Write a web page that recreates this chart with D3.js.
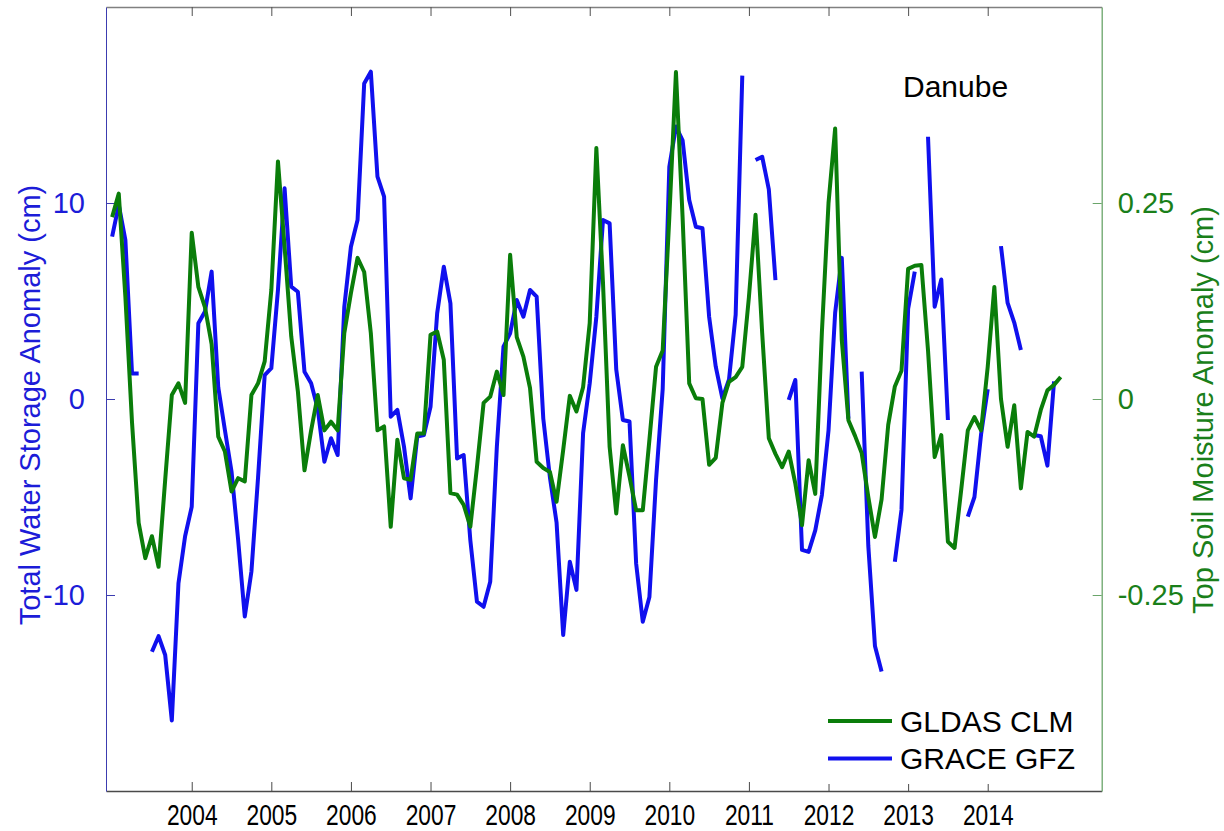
<!DOCTYPE html>
<html>
<head>
<meta charset="utf-8">
<script src="https://cdn.jsdelivr.net/npm/d3@7"></script>
<style>
  html, body { margin: 0; padding: 0; background: #fff; }
  svg { display: block; font-family: "Liberation Sans", Arial, Helvetica, sans-serif; }
</style>
</head>
<body>
<svg id="chart" width="1224" height="831"></svg>
<script>
// Monthly series, January 2003 to December 2014
const startYear = 2003;

// GLDAS CLM top soil moisture anomaly (cm), right axis
const gldasClm = [
  0.232, 0.262, 0.130, -0.030, -0.158, -0.203, -0.175, -0.214, -0.103, 0.005, 0.020, -0.005,
  0.212, 0.143, 0.117, 0.070, -0.048, -0.067, -0.118, -0.101, -0.105, 0.005, 0.020, 0.048,
  0.139, 0.303, 0.194, 0.080, 0.010, -0.091, -0.040, 0.005, -0.040, -0.029, -0.040, 0.084,
  0.135, 0.180, 0.162, 0.084, -0.040, -0.035, -0.163, -0.052, -0.101, -0.103, -0.044, -0.044,
  0.082, 0.086, 0.050, -0.120, -0.122, -0.135, -0.163, -0.087, -0.005, 0.003, 0.035, 0.005,
  0.184, 0.079, 0.054, 0.014, -0.080, -0.088, -0.093, -0.131, -0.065, 0.004, -0.016, 0.015,
  0.097, 0.320, 0.148, -0.061, -0.146, -0.059, -0.099, -0.142, -0.142, -0.052, 0.041, 0.062,
  0.232, 0.417, 0.232, 0.020, 0.001, 0.000, -0.084, -0.075, -0.005, 0.022, 0.028, 0.041,
  0.130, 0.235, 0.084, -0.050, -0.070, -0.087, -0.067, -0.108, -0.161, -0.078, -0.121, 0.085,
  0.250, 0.345, 0.075, -0.027, -0.047, -0.069, -0.125, -0.176, -0.128, -0.033, 0.016, 0.036,
  0.166, 0.170, 0.171, 0.062, -0.074, -0.046, -0.182, -0.190, -0.116, -0.040, -0.023, -0.040,
  0.041, 0.143, 0.000, -0.061, -0.008, -0.114, -0.042, -0.048, -0.014, 0.011, 0.018, 0.028
];

// GRACE GFZ total water storage anomaly (cm), left axis; null = missing month
const graceGfz = [
  8.28, 9.90, 8.10, 1.30, 1.30, null, -12.9, -12.1, -13.06, -16.4, -9.4, -7.0,
  -5.5, 3.87, 4.46, 6.5, 0.6, -1.58, -3.7, -7.2, -11.1, -8.8, -4.0, 1.22,
  1.57, 5.56, 10.75, 5.73, 5.47, 1.39, 0.8, -0.5, -3.2, -2.0, -2.86, 4.7,
  7.77, 9.13, 16.1, 16.7, 11.34, 10.32, -0.9, -0.56, -2.43, -5.07, -1.92, -1.84,
  -0.4, 4.37, 6.75, 4.88, -3.03, -2.86, -7.2, -10.34, -10.6, -9.32, -2.43, 2.67,
  3.35, 5.05, 4.2, 5.56, 5.22, -1.0, -4.0, -6.3, -12.04, -8.3, -9.74, -1.75,
  0.8, 4.2, 9.13, 8.96, 1.5, -1.07, -1.15, -8.4, -11.36, -10.1, -4.13, 0.5,
  11.85, 13.9, 13.2, 10.15, 8.79, 8.71, 4.2, 1.65, 0.03, 1.0, 4.3, 16.5,
  null, 12.19, 12.36, 10.7, 6.07, null, -0.05, 0.97, -7.7, -7.8, -6.7, -4.9,
  -1.6, 4.4, 7.2, -1.0, null, 1.4, -7.5, -12.6, -13.9, null, -8.3, -5.66,
  4.6, 6.5, null, 13.38, 4.71, 6.1, -1.07, null, null, -6.0, -5.0, -1.8,
  0.5, null, 7.8, 4.9, 3.9, 2.5, null, -1.84, -1.9, -3.4, 0.9, null
];

const yearTicks = [2004, 2005, 2006, 2007, 2008, 2009, 2010, 2011, 2012, 2013, 2014];
const leftTicks = [-10, 0, 10];
const rightTicks = [-0.25, 0, 0.25];
const xLimits = [2002.923, 2015.432];
const leftLimits = [-20, 20];
const rightLimits = [-0.5, 0.5];

const seriesNames = ["GLDAS CLM", "GRACE GFZ"];
const colors = { gldas: "#0a7d0a", grace: "#1010ee" };

const svg = d3.select("#chart");
const plot = { left: 106, right: 1101.7, top: 7, bottom: 791 };

const x = d3.scaleLinear().domain(xLimits).range([plot.left, plot.right]);
const yL = d3.scaleLinear().domain(leftLimits).range([plot.bottom, plot.top]);
const yR = d3.scaleLinear().domain(rightLimits).range([plot.bottom, plot.top]);

const monthX = i => startYear + i / 12;

// Axes
const fmt = d => String(d);

const bottomAxis = svg.append("g")
  .attr("transform", `translate(0,${plot.bottom})`)
  .call(d3.axisBottom(x).tickValues(yearTicks).tickFormat(d3.format("d"))
    .tickSizeInner(-9).tickSizeOuter(0).tickPadding(13));
bottomAxis.select(".domain").attr("stroke", "#4a4a4a").attr("stroke-width", 1.3);
bottomAxis.selectAll(".tick line").attr("stroke", "#4a4a4a");
bottomAxis.selectAll(".tick text")
  .attr("fill", "#000").attr("font-size", 30)
  .attr("transform", "scale(0.76,1)");

const topAxis = svg.append("g")
  .attr("transform", `translate(0,${plot.top})`)
  .call(d3.axisTop(x).tickValues(yearTicks).tickFormat("")
    .tickSizeInner(-9).tickSizeOuter(0));
topAxis.select(".domain").attr("stroke", "#808080").attr("stroke-width", 1.3);
topAxis.selectAll(".tick line").attr("stroke", "#505050");

const leftAxis = svg.append("g")
  .attr("transform", `translate(${plot.left},0)`)
  .call(d3.axisLeft(yL).tickValues(leftTicks).tickFormat(fmt)
    .tickSizeInner(-9).tickSizeOuter(0).tickPadding(21));
leftAxis.select(".domain").attr("stroke", "#3c3cb0");
leftAxis.selectAll(".tick line").attr("stroke", "#3c3cb0");
leftAxis.selectAll(".tick text").attr("fill", "#1c1cd8").attr("font-size", 29);

const rightAxis = svg.append("g")
  .attr("transform", `translate(${plot.right},0)`)
  .call(d3.axisRight(yR).tickValues(rightTicks).tickFormat(fmt)
    .tickSizeInner(-9).tickSizeOuter(0).tickPadding(16));
rightAxis.select(".domain").attr("stroke", "#6aa56a").attr("stroke-width", 1.3);
rightAxis.selectAll(".tick line").attr("stroke", "#6aa56a");
rightAxis.selectAll(".tick text").attr("fill", "#1a7f1a").attr("font-size", 29);

// Axis titles
svg.append("text")
  .attr("transform", "translate(40,405) rotate(-90)")
  .attr("text-anchor", "middle")
  .attr("font-size", 29)
  .attr("fill", "#1c1cd8")
  .text("Total Water Storage Anomaly (cm)");

svg.append("text")
  .attr("transform", "translate(1213,410) rotate(-90)")
  .attr("text-anchor", "middle")
  .attr("font-size", 29)
  .attr("fill", "#1a7f1a")
  .text("Top Soil Moisture Anomaly (cm)");

// Series lines
const graceLine = d3.line()
  .defined(d => d.v !== null)
  .x(d => x(d.t))
  .y(d => yL(d.v));

const gldasLine = d3.line()
  .x(d => x(d.t))
  .y(d => yR(d.v));

svg.append("path")
  .datum(graceGfz.map((v, i) => ({ t: monthX(i), v })))
  .attr("fill", "none")
  .attr("stroke", colors.grace)
  .attr("stroke-width", 4)
  .attr("stroke-linejoin", "round")
  .attr("d", graceLine);

svg.append("path")
  .datum(gldasClm.map((v, i) => ({ t: monthX(i), v })))
  .attr("fill", "none")
  .attr("stroke", colors.gldas)
  .attr("stroke-width", 4)
  .attr("stroke-linejoin", "round")
  .attr("d", gldasLine);

// Basin label
svg.append("text")
  .attr("x", 903).attr("y", 97)
  .attr("font-size", 30)
  .attr("fill", "#000")
  .text("Danube");

// Legend
const legend = svg.append("g");
legend.append("rect")
  .attr("x", 820).attr("y", 700).attr("width", 270).attr("height", 84)
  .attr("fill", "#fff");
const legendItems = [
  { name: seriesNames[0], color: colors.gldas, y: 721 },
  { name: seriesNames[1], color: colors.grace, y: 758.5 }
];
legendItems.forEach(item => {
  legend.append("line")
    .attr("x1", 828).attr("x2", 892)
    .attr("y1", item.y).attr("y2", item.y)
    .attr("stroke", item.color).attr("stroke-width", 4);
  legend.append("text")
    .attr("x", 900).attr("y", item.y + 10.5)
    .attr("font-size", 30)
    .attr("fill", "#000")
    .text(item.name);
});
</script>
</body>
</html>
